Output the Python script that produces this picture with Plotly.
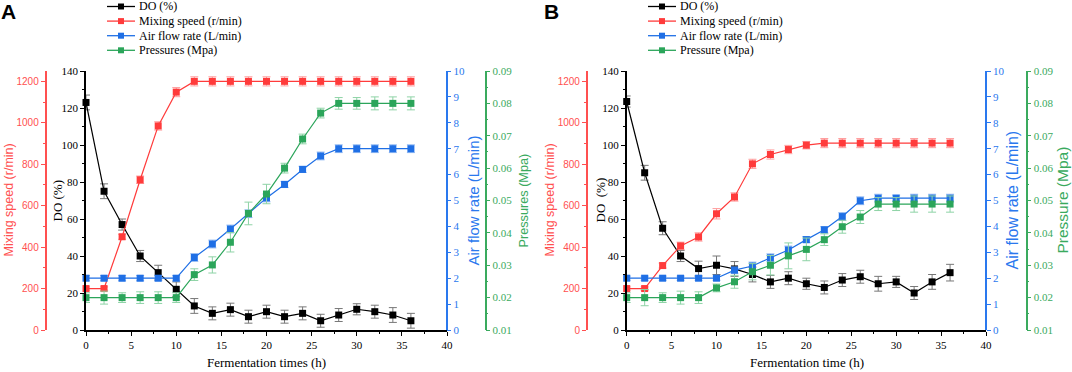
import plotly.graph_objects as go

W, H = 1072, 372

# ---------------- data ----------------
time_h = [0, 2, 4, 6, 8, 10, 12, 14, 16, 18, 20, 22, 24, 26, 28, 30, 32, 34, 36]

# Panel A
do_a = [123, 75, 57, 40, 31, 22, 13, 9, 11, 7.2, 9.9, 7.2, 9, 5, 8.1, 11.2, 9.9, 8.1, 5]
do_a_err = [4, 4, 3, 3, 4, 4, 4, 3.5, 3.5, 3.5, 3.5, 3.5, 3.5, 3.5, 3.5, 3, 3.5, 4, 4]
mix_a = [200, 200, 450, 725, 985, 1148, 1200, 1200, 1200, 1200, 1200, 1200, 1200, 1200, 1200, 1200, 1200, 1200, 1200]
mix_a_err = [8, 8, 12, 18, 20, 22, 22, 22, 22, 22, 22, 22, 22, 22, 22, 22, 22, 22, 22]
air_a = [2, 2, 2, 2, 2, 2, 2.8, 3.32, 3.9, 4.49, 5.1, 5.62, 6.2, 6.72, 7.0, 7.0, 7.0, 7.0, 7.0]
air_a_err = [0.1, 0.1, 0.1, 0.1, 0.1, 0.1, 0.15, 0.15, 0.15, 0.15, 0.15, 0.12, 0.12, 0.15, 0.15, 0.15, 0.15, 0.15, 0.15]
prs_a = [0.02, 0.02, 0.02, 0.02, 0.02, 0.02, 0.0271, 0.0301, 0.0371, 0.046, 0.052, 0.060, 0.069, 0.077, 0.080, 0.080, 0.080, 0.080, 0.080]
prs_a_err = [0.0015, 0.002, 0.0015, 0.0018, 0.0018, 0.0015, 0.0018, 0.0025, 0.003, 0.0035, 0.003, 0.0015, 0.0015, 0.0015, 0.0018, 0.0018, 0.002, 0.002, 0.002]

# Panel B
do_b = [123.5, 85, 55, 40, 33.2, 35, 33, 30, 26, 28, 25, 23, 27, 28.8, 25, 26, 20, 26, 31]
do_b_err = [3, 4, 3.5, 3, 4, 5, 4, 4, 3.5, 3.5, 3, 3.5, 3.5, 3.5, 4, 3, 3.5, 4, 4.5]
mix_b = [200, 200, 311, 406, 449, 561, 642, 802, 847, 871, 892, 902, 902, 902, 902, 902, 902, 902, 902]
mix_b_err = [8, 8, 12, 18, 20, 25, 20, 22, 22, 20, 18, 22, 22, 22, 22, 22, 22, 22, 22]
air_b = [2, 2, 2, 2, 2, 2, 2.31, 2.47, 2.79, 3.09, 3.49, 3.87, 4.38, 4.99, 5.09, 5.09, 5.09, 5.09, 5.09]
air_b_err = [0.08, 0.08, 0.08, 0.08, 0.08, 0.08, 0.12, 0.15, 0.15, 0.15, 0.12, 0.12, 0.15, 0.15, 0.15, 0.12, 0.15, 0.15, 0.15]
prs_b = [0.02, 0.02, 0.02, 0.02, 0.02, 0.023, 0.0249, 0.028, 0.030, 0.0329, 0.0349, 0.0379, 0.0419, 0.0449, 0.0489, 0.0489, 0.0489, 0.0489, 0.0489]
prs_b_err = [0.0015, 0.0025, 0.0015, 0.002, 0.0018, 0.0012, 0.002, 0.0025, 0.003, 0.004, 0.0035, 0.0018, 0.002, 0.002, 0.002, 0.002, 0.0025, 0.0025, 0.0025]

names_a = ["DO (%)", "Mixing speed (r/min)", "Air flow rate (L/min)", "Pressures (Mpa)"]
names_b = ["DO (%)", "Mixing speed (r/min)", "Air flow rate (L/min)", "Pressure (Mpa)"]

# ---------------- style ----------------
BLACK = "#000000"
RED = "#FF3B3B"
BLUE = "#1F6FE5"
GREEN = "#2BA55A"
RED_AX = "#FF5050"
BLUE_AX = "#2A78EE"
GREEN_AX = "#3AAA5E"
ERR = {BLACK: "#777777", RED: "#FF9C9C", BLUE: "#8DB6F2", GREEN: "#8ED3A6"}
SERIF = "Liberation Serif"
SANS = "Liberation Sans"


def px(x):
    return x / W


def py(y):
    return 1 - y / H


YDOM = [py(330), py(71)]

fig = go.Figure()


def add_series(xa, ya, y, err, color, name):
    fig.add_trace(go.Scatter(
        x=time_h, y=y, xaxis=xa, yaxis=ya, name=name, mode="lines+markers",
        line=dict(color=color, width=1.2),
        marker=dict(symbol="square", size=7, color=color),
        error_y=dict(type="data", array=err, color=ERR[color], thickness=1, width=4),
        cliponaxis=False, showlegend=False))


add_series("x", "y", do_a, do_a_err, BLACK, names_a[0])
add_series("x", "y2", mix_a, mix_a_err, RED, names_a[1])
add_series("x", "y3", air_a, air_a_err, BLUE, names_a[2])
add_series("x", "y4", prs_a, prs_a_err, GREEN, names_a[3])
add_series("x2", "y5", do_b, do_b_err, BLACK, names_b[0])
add_series("x2", "y6", mix_b, mix_b_err, RED, names_b[1])
add_series("x2", "y7", air_b, air_b_err, BLUE, names_b[2])
add_series("x2", "y8", prs_b, prs_b_err, GREEN, names_b[3])


def xaxis(dom, anchor):
    return dict(domain=dom, anchor=anchor, range=[0, 40], dtick=5, tick0=0,
                showline=True, linecolor=BLACK, linewidth=1.5, ticks="outside",
                ticklen=4, tickwidth=1, tickcolor=BLACK, showgrid=False, zeroline=False,
                tickfont=dict(family=SERIF, size=11, color=BLACK),
                minor=dict(dtick=2.5, ticks="outside", ticklen=2, tickcolor=BLACK))


def yaxis(rng, dtick, color, fontfam, fontsize, minor_dtick=None, **kw):
    d = dict(domain=YDOM, range=rng, dtick=dtick, showline=True, linecolor=color,
             linewidth=1.5, ticks="outside", ticklen=4, tickwidth=1, tickcolor=color,
             showgrid=False, zeroline=False,
             tickfont=dict(family=fontfam, size=fontsize, color=color))
    if minor_dtick:
        d["minor"] = dict(dtick=minor_dtick, ticks="outside", ticklen=2, tickcolor=color)
    d.update(kw)
    return d


xa_dom = [px(86), px(447)]
xb_dom = [px(626.7), px(986)]

layout = dict(
    width=W, height=H, margin=dict(l=0, r=0, t=0, b=0, autoexpand=False),
    paper_bgcolor="white", plot_bgcolor="white", showlegend=False,
    xaxis=xaxis(xa_dom, "y"),
    xaxis2=xaxis(xb_dom, "y5"),
    yaxis=yaxis([0, 140], 20, BLACK, SERIF, 11, 10, anchor="x"),
    yaxis2=yaxis([0, 1250], 200, RED_AX, SANS, 10, 100, overlaying="y", anchor="free",
                 position=px(45.5), side="left", tick0=0),
    yaxis3=yaxis([0, 10], 1, BLUE_AX, SERIF, 11, None, overlaying="y", anchor="free",
                 position=px(446.5), side="right"),
    yaxis4=yaxis([0.01, 0.09], 0.01, GREEN_AX, SERIF, 11, 0.005, overlaying="y", anchor="free",
                 position=px(485.5), side="right", tickformat=".2f", tick0=0.01),
    yaxis5=yaxis([0, 140], 20, BLACK, SERIF, 11, 10, anchor="x2"),
    yaxis6=yaxis([0, 1250], 200, RED_AX, SANS, 10, 100, overlaying="y5", anchor="free",
                 position=px(586.7), side="left", tick0=0),
    yaxis7=yaxis([0, 10], 1, BLUE_AX, SERIF, 11, None, overlaying="y5", anchor="free",
                 position=px(986), side="right"),
    yaxis8=yaxis([0.01, 0.09], 0.01, GREEN_AX, SERIF, 11, 0.005, overlaying="y5", anchor="free",
                 position=px(1026.7), side="right", tickformat=".2f", tick0=0.01),
)
fig.update_layout(**layout)

ann = []
shapes = []


def vtitle(xc, text, color, fam, size):
    ann.append(dict(x=px(xc), y=py(200.5), xref="paper", yref="paper", text=text, textangle=-90,
                    showarrow=False, xanchor="center", yanchor="middle",
                    font=dict(family=fam, size=size, color=color)))


# axis titles panel A
vtitle(8, "Mixing speed (r/min)", RED_AX, SANS, 12.5)
vtitle(57, "DO (%)", BLACK, SERIF, 13)
vtitle(473, "Air flow rate (L/min)", BLUE_AX, SANS, 15)
vtitle(523, "Pressures (Mpa)", GREEN_AX, SANS, 12.7)
# axis titles panel B
vtitle(549, "Mixing speed (r/min)", RED_AX, SANS, 12.5)
vtitle(600, "DO\u00a0\u00a0(%)", BLACK, SERIF, 13)
vtitle(1012, "Air flow rate (L/min)", BLUE_AX, SANS, 16)
vtitle(1062, "Pressure (Mpa)", GREEN_AX, SANS, 15.5)

# x titles
for xc, t in [(266, "Fermentation times (h)"), (807, "Fermentation time (h)")]:
    ann.append(dict(x=px(xc), y=py(362), xref="paper", yref="paper", text=t, showarrow=False,
                    xanchor="center", yanchor="middle", font=dict(family=SERIF, size=13, color=BLACK)))

# panel letters
for xc, t in [(8.5, "A"), (551.5, "B")]:
    ann.append(dict(x=px(xc), y=py(12), xref="paper", yref="paper", text="<b>%s</b>" % t,
                    showarrow=False, xanchor="center", yanchor="middle",
                    font=dict(family=SANS, size=21, color=BLACK)))

# legends (manual)
colors = [BLACK, RED, BLUE, GREEN]
for x0, names in [(107, names_a), (648, names_b)]:
    for i, (c, n) in enumerate(zip(colors, names)):
        yc = 6.5 + i * 14.6
        shapes.append(dict(type="line", xref="paper", yref="paper", x0=px(x0), x1=px(x0 + 28),
                           y0=py(yc), y1=py(yc), line=dict(color=c, width=1.3)))
        shapes.append(dict(type="rect", xref="paper", yref="paper", x0=px(x0 + 11), x1=px(x0 + 17),
                           y0=py(yc + 3), y1=py(yc - 3), line=dict(width=0), fillcolor=c))
        ann.append(dict(x=px(x0 + 30), y=py(yc), xref="paper", yref="paper", text=n, showarrow=False,
                        xanchor="left", yanchor="middle", font=dict(family=SERIF, size=12, color=BLACK)))

fig.update_layout(annotations=ann, shapes=shapes)
fig.write_html("out.html", config={"displayModeBar": False},
               post_script="document.body.style.margin='0';document.body.style.overflow='hidden';")
